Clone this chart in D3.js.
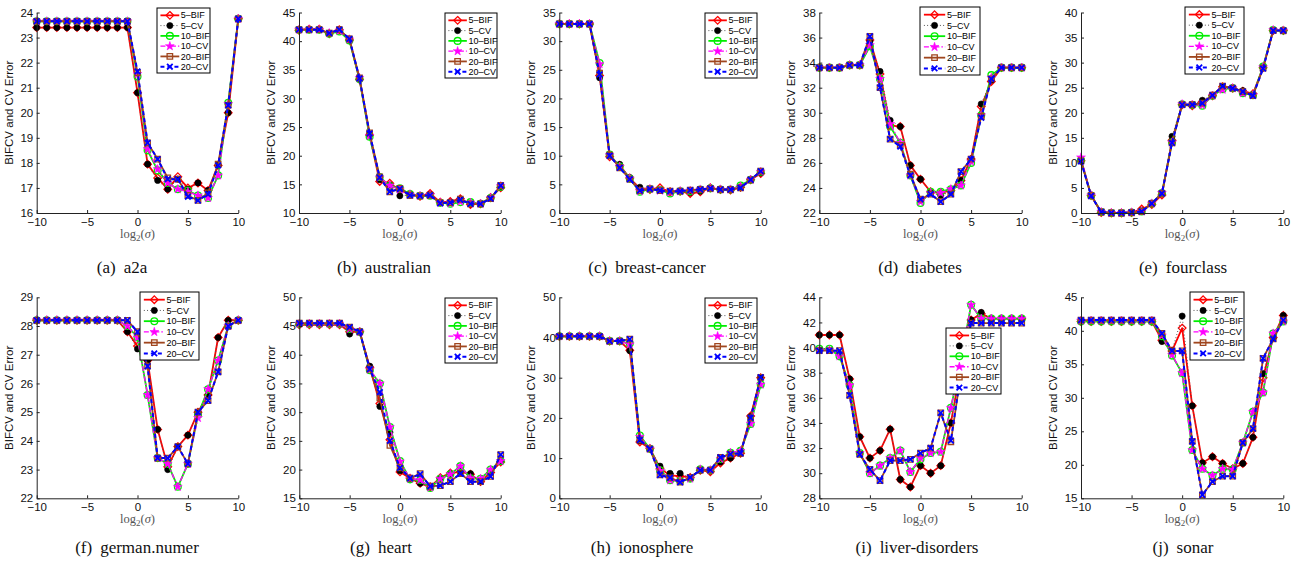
<!DOCTYPE html>
<html><head><meta charset="utf-8">
<script src="https://cdn.jsdelivr.net/npm/d3@7"></script>
<style>body{margin:0;background:#fff}svg{display:block}</style>
</head><body><svg id="c" width="1305" height="567"></svg>
<script>
// ---------- data ----------
const sigmaLog2 = [-10,-9,-8,-7,-6,-5,-4,-3,-2,-1,0,1,2,3,4,5,6,7,8,9,10];
const xTickValues = [-10,-5,0,5,10];
const seriesNames = ["5\u2013BIF","5\u2013CV","10\u2013BIF","10\u2013CV","20\u2013BIF","20\u2013CV"];

// (a) a2a
const a2a_5bif  = [23.4,23.4,23.4,23.4,23.4,23.4,23.4,23.4,23.4,23.4,20.8,17.95,17.4,16.95,17.45,17.0,17.2,16.9,17.9,20.0,23.75];
const a2a_5cv   = [23.4,23.4,23.4,23.4,23.4,23.4,23.4,23.4,23.4,23.4,20.8,17.95,17.3,16.95,17.35,16.95,17.2,16.9,17.9,20.0,23.75];
const a2a_10bif = [23.65,23.65,23.65,23.65,23.65,23.65,23.65,23.65,23.65,23.65,21.45,18.5,17.7,17.2,16.95,16.9,16.7,16.6,17.5,20.4,23.75];
const a2a_10cv  = [23.65,23.65,23.65,23.65,23.65,23.65,23.65,23.65,23.65,23.65,21.55,18.55,17.75,17.2,16.95,16.85,16.7,16.6,17.5,20.35,23.75];
const a2a_20bif = [23.65,23.65,23.65,23.65,23.65,23.65,23.65,23.65,23.65,23.65,21.6,18.8,18.15,17.4,17.35,16.7,16.5,16.8,17.95,20.3,23.75];
const a2a_20cv  = [23.65,23.65,23.65,23.65,23.65,23.65,23.65,23.65,23.65,23.65,21.65,18.8,18.15,17.35,17.35,16.65,16.5,16.75,17.9,20.3,23.75];
const a2a_ticks = [16,17,18,19,20,21,22,23,24];

// (b) australian
const aus_5bif  = [41.9,42.1,42.1,41.3,42.0,40.2,33.3,23.6,15.5,15.2,14.0,13.3,12.9,13.4,11.9,12.0,12.5,11.5,11.6,12.7,14.4];
const aus_5cv   = [42.0,42.0,42.0,41.4,42.0,40.4,33.5,23.8,15.8,14.9,13.0,13.1,13.0,13.2,11.8,11.9,12.4,11.6,11.6,12.6,14.5];
const aus_10bif = [42.0,42.0,42.0,41.3,41.7,40.1,33.4,23.3,16.3,14.7,14.3,13.3,13.0,13.0,11.8,11.6,11.9,11.9,11.6,12.6,14.6];
const aus_10cv  = [42.0,42.0,42.0,41.4,41.8,40.3,33.6,23.5,16.2,14.8,14.1,13.2,13.0,13.1,11.8,11.7,12.0,11.8,11.6,12.6,14.7];
const aus_20bif = [42.0,42.0,42.0,41.4,42.0,40.4,33.6,24.0,16.3,13.7,14.3,13.1,13.0,13.1,11.8,11.8,12.4,11.6,11.6,12.5,14.8];
const aus_20cv  = [42.0,42.0,42.0,41.4,42.0,40.4,33.5,23.9,16.2,13.7,14.2,13.1,13.0,13.1,11.7,11.8,12.3,11.6,11.6,12.5,14.8];
const aus_ticks = [10,15,20,25,30,35,40,45];

// (c) breast-cancer
const bc_5bif  = [33,33,33,33,24.0,9.8,8.3,6.1,4.2,4.1,4.4,3.7,3.8,3.4,3.7,4.4,4.1,4.0,4.5,5.8,6.9];
const bc_5cv   = [33,33,33,33,23.6,10.0,8.5,6.2,4.5,4.2,4.0,3.8,3.8,3.6,3.8,4.3,4.1,4.1,4.4,5.8,7.0];
const bc_10bif = [33,33,33,33,26.2,10.2,8.1,6.0,3.7,4.2,4.0,3.4,3.8,3.8,4.1,4.3,4.1,4.1,4.8,5.8,7.2];
const bc_10cv  = [33,33,33,33,26.0,10.1,8.1,6.0,3.8,4.2,3.9,3.6,3.8,3.9,4.1,4.3,4.1,4.1,4.6,5.8,7.2];
const bc_20bif = [33,33,33,33,24.4,10.1,7.9,5.9,3.9,4.2,3.9,3.8,3.8,4.0,4.1,4.3,4.1,4.1,4.4,5.8,7.3];
const bc_20cv  = [33,33,33,33,24.2,10.0,7.9,5.9,3.9,4.2,3.9,3.8,3.8,4.0,4.1,4.3,4.1,4.1,4.4,5.8,7.3];
const bc_ticks = [0,5,10,15,20,25,30,35];

// (d) diabetes
const dia_5bif  = [33.6,33.6,33.6,33.8,33.8,35.8,33.1,29.0,28.9,25.8,24.7,23.7,23.6,23.8,24.6,26.3,30.5,32.5,33.6,33.6,33.6];
const dia_5cv   = [33.6,33.6,33.6,33.8,33.8,35.7,33.3,29.4,28.9,25.8,24.7,23.6,23.4,23.7,24.6,26.3,30.7,32.6,33.6,33.6,33.6];
const dia_10bif = [33.6,33.6,33.6,33.8,33.8,35.3,32.7,28.9,27.6,25.0,22.8,23.7,23.7,23.9,24.2,26.0,29.8,33.0,33.6,33.6,33.6];
const dia_10cv  = [33.6,33.6,33.6,33.8,33.8,35.4,32.7,29.1,27.6,25.0,22.9,23.6,23.6,23.9,24.2,26.1,29.8,32.8,33.6,33.6,33.6];
const dia_20bif = [33.6,33.6,33.6,33.8,33.8,36.1,32.0,27.9,27.4,25.1,23.1,23.5,22.9,23.5,25.3,26.3,29.7,32.7,33.6,33.6,33.6];
const dia_20cv  = [33.6,33.6,33.6,33.8,33.8,36.1,32.0,27.9,27.3,25.0,23.1,23.5,22.9,23.5,25.3,26.3,29.6,32.7,33.6,33.6,33.6];
const dia_ticks = [22,24,26,28,30,32,34,36,38];

// (e) fourclass
const fc_5bif  = [10.4,3.5,0.1,0,0,0.1,0.8,1.7,3.6,14.5,21.6,21.4,22.2,23.4,25.2,24.9,24.3,23.8,29.0,36.4,36.4];
const fc_5cv   = [10.5,3.6,0.2,0,0,0.1,0.5,1.9,3.8,15.3,21.7,21.6,22.5,23.5,25.2,25.0,24.4,23.6,29.0,36.4,36.4];
const fc_10bif = [10.5,3.5,0.2,0,0,0.1,0.3,1.9,4.0,14.1,21.7,21.6,21.4,23.4,24.7,24.9,23.9,23.5,29.2,36.5,36.4];
const fc_10cv  = [11.1,3.5,0.2,0,0,0.1,0.3,1.9,4.0,14.1,21.7,21.6,21.5,23.4,24.6,24.9,23.9,23.5,29.1,36.5,36.4];
const fc_20bif = [10.4,3.5,0.2,0,0,0.1,0.3,1.9,3.9,14.0,21.6,21.6,21.9,23.5,25.3,24.9,24.2,23.4,28.9,36.4,36.4];
const fc_20cv  = [10.3,3.4,0.2,0,0,0.1,0.3,1.9,3.9,14.0,21.6,21.6,21.9,23.5,25.3,24.9,24.2,23.4,28.8,36.4,36.4];
const fc_ticks = [0,5,10,15,20,25,30,35,40];

// (f) german.numer
const ger_5bif  = [28.2,28.2,28.2,28.2,28.2,28.2,28.2,28.2,28.2,27.8,27.3,26.8,24.4,23.1,23.8,24.2,25.0,25.6,27.6,28.2,28.2];
const ger_5cv   = [28.2,28.2,28.2,28.2,28.2,28.2,28.2,28.2,28.2,27.8,27.2,26.8,24.4,23.0,23.8,24.2,25.0,25.6,27.6,28.2,28.2];
const ger_10bif = [28.2,28.2,28.2,28.2,28.2,28.2,28.2,28.2,28.2,28.0,27.6,25.6,23.4,23.2,22.4,23.2,24.9,25.8,26.8,28.0,28.2];
const ger_10cv  = [28.2,28.2,28.2,28.2,28.2,28.2,28.2,28.2,28.2,28.0,27.6,25.6,23.4,23.2,22.4,23.2,24.8,25.8,26.8,28.0,28.2];
const ger_20bif = [28.2,28.2,28.2,28.2,28.2,28.2,28.2,28.2,28.2,28.2,27.8,26.6,23.4,23.4,23.8,23.2,25.0,25.4,26.4,28.0,28.2];
const ger_20cv  = [28.2,28.2,28.2,28.2,28.2,28.2,28.2,28.2,28.2,28.2,27.8,26.6,23.4,23.4,23.8,23.2,25.0,25.4,26.4,28.0,28.2];
const ger_ticks = [22,23,24,25,26,27,28,29];

// (g) heart
const hrt_5bif  = [45.2,45.2,45.2,45.2,45.2,44.0,44.0,37.8,31.5,25.2,19.6,18.5,17.6,17.0,18.6,19.4,19.6,19.2,17.9,19.5,21.3];
const hrt_5cv   = [45.4,45.4,45.4,45.4,45.4,43.6,44.0,38.0,31.0,26.5,19.8,18.5,17.6,17.0,18.5,19.3,19.7,19.3,17.9,19.6,21.4];
const hrt_10bif = [45.4,45.4,45.4,45.4,45.4,44.5,44.0,37.3,35.0,27.4,21.5,18.3,18.2,16.8,18.4,19.2,20.6,18.5,18.4,20.0,21.5];
const hrt_10cv  = [45.4,45.4,45.4,45.4,45.4,44.5,44.0,37.4,35.0,27.4,21.4,18.4,18.2,16.9,18.4,19.2,20.6,18.5,18.4,20.0,21.5];
const hrt_20bif = [45.5,45.5,45.5,45.5,45.5,44.8,44.0,37.5,32.5,24.2,20.3,18.5,19.3,17.1,17.2,17.9,19.3,17.9,17.9,18.8,22.6];
const hrt_20cv  = [45.5,45.5,45.5,45.5,45.5,44.8,44.0,37.5,33.5,25.0,20.3,18.5,19.2,17.1,17.2,17.9,19.3,17.9,17.9,18.8,22.6];
const hrt_ticks = [15,20,25,30,35,40,45,50];

// (h) ionosphere
const ion_5bif  = [40.3,40.3,40.3,40.3,40.3,39.1,39.1,36.8,14.0,12.4,7.5,5.7,5.5,5.2,7.0,6.6,8.8,10.0,11.2,20.5,30.0];
const ion_5cv   = [40.3,40.3,40.3,40.3,40.3,39.1,39.1,36.7,14.3,12.4,8.0,6.2,6.2,5.2,7.0,6.8,9.0,10.0,11.2,20.3,30.0];
const ion_10bif = [40.3,40.3,40.3,40.3,40.3,39.1,39.1,38.5,15.6,12.3,7.0,4.5,4.3,4.9,7.2,7.0,9.8,11.3,11.8,18.5,28.3];
const ion_10cv  = [40.3,40.3,40.3,40.3,40.3,39.1,39.1,38.3,15.3,12.3,6.8,4.5,4.3,4.9,7.2,7.0,9.8,11.3,11.8,18.6,28.3];
const ion_20bif = [40.3,40.3,40.3,40.3,40.3,39.1,39.1,39.6,14.5,12.3,5.8,5.1,4.0,5.2,7.0,7.0,10.2,11.0,11.2,20.0,30.1];
const ion_20cv  = [40.3,40.3,40.3,40.3,40.3,39.1,39.1,39.6,14.5,12.3,5.8,5.1,4.0,5.2,7.0,7.0,10.2,11.0,11.2,20.0,30.1];
const ion_ticks = [0,10,20,30,40,50];

// (i) liver-disorders
const liv_5bif  = [41.0,41.0,41.0,37.5,32.9,31.2,31.8,33.5,29.5,28.9,30.6,30.0,30.6,34.0,38.5,42.2,42.7,42.3,42.3,42.3,42.3];
const liv_5cv   = [41.0,41.0,41.0,37.5,32.9,31.2,31.8,33.5,29.5,28.9,30.6,30.0,30.6,34.0,38.5,42.2,42.8,42.3,42.3,42.3,42.3];
const liv_10bif = [39.9,39.9,39.3,37.0,31.6,30.0,30.6,31.2,31.8,30.1,31.1,31.6,31.7,35.2,39.0,43.4,42.3,42.3,42.3,42.3,42.3];
const liv_10cv  = [39.8,39.8,39.3,37.0,31.6,30.0,30.6,31.2,31.8,30.1,31.2,31.6,31.7,35.2,39.0,43.4,42.3,42.3,42.3,42.3,42.3];
const liv_20bif = [39.75,39.75,39.75,36.2,31.5,30.3,29.4,31.0,31.0,31.1,31.6,32.0,34.8,32.5,38.0,41.95,41.95,41.95,41.95,41.95,41.95];
const liv_20cv  = [39.75,39.75,39.75,36.2,31.5,30.3,29.4,31.0,31.0,31.1,31.6,32.0,34.8,32.6,38.0,41.95,41.95,41.95,41.95,41.95,41.95];
const liv_ticks = [28,30,32,34,36,38,40,42,44];

// (j) sonar
const son_5bif  = [41.4,41.4,41.4,41.4,41.4,41.4,41.4,41.4,38.6,37.0,40.4,28.8,20.3,21.2,20.2,19.4,20.2,24.1,33.0,39.0,42.3];
const son_5cv   = [41.6,41.6,41.6,41.6,41.6,41.6,41.6,41.6,38.4,37.0,42.2,28.8,20.3,21.2,20.2,19.4,20.2,24.1,33.6,38.9,42.3];
const son_10bif = [41.4,41.4,41.4,41.4,41.4,41.4,41.4,41.4,39.2,36.3,33.7,22.2,19.4,18.4,19.4,19.3,23.3,27.9,30.8,39.6,41.4];
const son_10cv  = [41.5,41.5,41.5,41.5,41.5,41.5,41.5,41.5,39.3,36.4,33.7,22.2,19.4,18.4,19.4,19.3,23.3,27.9,30.8,39.6,41.4];
const son_20bif = [41.6,41.6,41.6,41.6,41.6,41.6,41.6,41.6,39.6,37.0,37.0,23.5,15.5,17.5,18.3,18.3,23.3,25.4,35.9,38.8,41.6];
const son_20cv  = [41.6,41.6,41.6,41.6,41.6,41.6,41.6,41.6,39.6,37.0,37.0,23.5,15.5,17.5,18.3,18.3,23.3,25.4,35.9,38.8,41.6];
const son_ticks = [15,20,25,30,35,40,45];

const captionLetters = ["(a)","(b)","(c)","(d)","(e)","(f)","(g)","(h)","(i)","(j)"];
const captionNames = ["a2a","australian","breast-cancer","diabetes","fourclass","german.numer","heart","ionosphere","liver-disorders","sonar"];

// ---------- layout / style ----------
const rows = [{top:12.5, bottom:213, capY:273}, {top:297.3, bottom:498.3, capY:553}];
const panels = [
  {s:[a2a_5bif,a2a_5cv,a2a_10bif,a2a_10cv,a2a_20bif,a2a_20cv], t:a2a_ticks, row:0, x0:36.7,  x1:238.3, leg:[157,8,53,65],   cap:122},
  {s:[aus_5bif,aus_5cv,aus_10bif,aus_10cv,aus_20bif,aus_20cv], t:aus_ticks, row:0, x0:299,   x1:500.7, leg:[445,13,52,65],  cap:384},
  {s:[bc_5bif,bc_5cv,bc_10bif,bc_10cv,bc_20bif,bc_20cv],       t:bc_ticks,  row:0, x0:559.3, x1:760.7, leg:[705,13,52,65],  cap:647},
  {s:[dia_5bif,dia_5cv,dia_10bif,dia_10cv,dia_20bif,dia_20cv], t:dia_ticks, row:0, x0:819.3, x1:1021.7,leg:[920,7,60,68],   cap:920},
  {s:[fc_5bif,fc_5cv,fc_10bif,fc_10cv,fc_20bif,fc_20cv],       t:fc_ticks,  row:0, x0:1081,  x1:1283.3,leg:[1185,7,59,67],  cap:1183},
  {s:[ger_5bif,ger_5cv,ger_10bif,ger_10cv,ger_20bif,ger_20cv], t:ger_ticks, row:1, x0:36.7,  x1:238.3, leg:[140,292,59,68], cap:137},
  {s:[hrt_5bif,hrt_5cv,hrt_10bif,hrt_10cv,hrt_20bif,hrt_20cv], t:hrt_ticks, row:1, x0:299.3, x1:500.7, leg:[445,298,52,65], cap:381},
  {s:[ion_5bif,ion_5cv,ion_10bif,ion_10cv,ion_20bif,ion_20cv], t:ion_ticks, row:1, x0:559.3, x1:760.7, leg:[705,298,52,65], cap:642},
  {s:[liv_5bif,liv_5cv,liv_10bif,liv_10cv,liv_20bif,liv_20cv], t:liv_ticks, row:1, x0:819.3, x1:1021.7,leg:[946,328,55,66], cap:917},
  {s:[son_5bif,son_5cv,son_10bif,son_10cv,son_20bif,son_20cv], t:son_ticks, row:1, x0:1081,  x1:1283.3,leg:[1190,292,54,68],cap:1183}
];
const styles = [
  {line:"#ff0000", w:1.8, dash:null,        mk:"diamond", mstroke:"#ff0000", mfill:"none"},
  {line:"#555555", w:1.0, dash:"1,2.2",     mk:"dot",     mstroke:"#000",    mfill:"#000"},
  {line:"#00ee00", w:1.8, dash:null,        mk:"circle",  mstroke:"#00ee00", mfill:"none"},
  {line:"#ff00ff", w:1.4, dash:"5,2,1.5,2", mk:"star",    mstroke:"#ff00ff", mfill:"#ff00ff"},
  {line:"#a0461e", w:1.8, dash:null,        mk:"square",  mstroke:"#a0461e", mfill:"none"},
  {line:"#0000ff", w:2.0, dash:"4,3",       mk:"cross",   mstroke:"#0000ff", mfill:"none"}
];
const markerPath = {
  diamond: () => { const r = 3.8; return `M0,${-r}L${r},0L0,${r}L${-r},0Z`; },
  dot:     () => d3.symbol(d3.symbolCircle, 30)(),
  circle:  () => d3.symbol(d3.symbolCircle, 36)(),
  star:    () => d3.symbol(d3.symbolStar, 24)(),
  square:  () => d3.symbol(d3.symbolSquare, 30)(),
  cross:   () => { const r = 2.8; return `M${-r},${-r}L${r},${r}M${-r},${r}L${r},${-r}`; }
};

const svg = d3.select("#c");
const sans = "'Liberation Sans', Arial, Helvetica, sans-serif";
const serif = "'Liberation Serif', 'Times New Roman', serif";
const intFmt = d3.format("d");

function drawMarker(g, st, cx, cy) {
  g.append("path").attr("d", markerPath[st.mk]())
    .attr("transform", `translate(${cx},${cy})`)
    .attr("fill", st.mfill).attr("stroke", st.mstroke)
    .attr("stroke-width", st.mk === "cross" ? 1.8 : (st.mk === "dot" || st.mk === "star" ? 0.6 : 1.3));
}

panels.forEach((p, pi) => {
  const row = rows[p.row];
  const x = d3.scaleLinear().domain([-10, 10]).range([p.x0, p.x1]);
  const y = d3.scaleLinear().domain([p.t[0], p.t[p.t.length - 1]]).range([row.bottom, row.top]);
  const g = svg.append("g");

  // series
  const line = d3.line().x((d, j) => x(sigmaLog2[j])).y(d => y(d));
  p.s.forEach((vals, k) => {
    const st = styles[k];
    const sg = g.append("g");
    sg.append("path").attr("d", line(vals)).attr("fill", "none")
      .attr("stroke", st.line).attr("stroke-width", st.w)
      .attr("stroke-dasharray", st.dash).attr("stroke-linejoin", "round");
    vals.forEach((v, j) => drawMarker(sg, st, x(sigmaLog2[j]), y(v)));
  });

  // axes
  const ax = g.append("g").attr("transform", `translate(0,${row.bottom})`)
    .call(d3.axisBottom(x).tickValues(xTickValues).tickFormat(d3.format("")).tickSize(-3).tickSizeOuter(0).tickPadding(5));
  const ay = g.append("g").attr("transform", `translate(${p.x0},0)`)
    .call(d3.axisLeft(y).tickValues(p.t).tickFormat(intFmt).tickSize(-3).tickSizeOuter(0).tickPadding(3.5));
  [ax, ay].forEach(a => {
    a.select(".domain").attr("stroke", "#222");
    a.selectAll(".tick line").attr("stroke", "#222");
    a.selectAll("text").attr("font-family", sans).attr("font-size", 11.5).attr("fill", "#111");
  });

  // y label
  const ym = (row.top + row.bottom) / 2;
  g.append("text").attr("transform", `translate(${p.x0 - 24},${ym}) rotate(-90)`)
    .attr("text-anchor", "middle").attr("font-family", sans).attr("font-size", 11.5)
    .attr("fill", "#111").text("BIFCV and CV Error");

  // x label
  const xl = g.append("text").attr("x", (p.x0 + p.x1) / 2).attr("y", row.bottom + 25)
    .attr("text-anchor", "middle").attr("font-family", serif).attr("font-size", 12.5).attr("fill", "#555");
  xl.append("tspan").text("log");
  xl.append("tspan").attr("dy", 3).attr("font-size", 9).text("2");
  xl.append("tspan").attr("dy", -3).text("(");
  xl.append("tspan").attr("font-style", "italic").text("\u03c3");
  xl.append("tspan").text(")");

  // legend
  const [lx, ly, lw, lh] = p.leg;
  const lg = g.append("g");
  lg.append("rect").attr("x", lx).attr("y", ly).attr("width", lw).attr("height", lh)
    .attr("fill", "#fff").attr("stroke", "#000").attr("stroke-width", 1);
  seriesNames.forEach((nm, k) => {
    const st = styles[k];
    const cy = ly + lh * (0.113 + k * 0.158);
    const a = lx + lw * 0.065, b = lx + lw * 0.42;
    lg.append("line").attr("x1", a).attr("x2", b).attr("y1", cy).attr("y2", cy)
      .attr("stroke", st.line).attr("stroke-width", st.w).attr("stroke-dasharray", st.dash);
    drawMarker(lg, st, (a + b) / 2, cy);
    lg.append("text").attr("x", lx + lw * 0.45).attr("y", cy).attr("dy", "0.35em")
      .attr("font-family", sans).attr("font-size", 9).attr("fill", "#000").text(nm);
  });

  // caption
  const cp = svg.append("text").attr("x", p.cap).attr("y", row.capY).attr("text-anchor", "middle")
    .attr("font-family", serif).attr("font-size", 17).attr("fill", "#111");
  cp.append("tspan").text(captionLetters[pi]);
  cp.append("tspan").attr("dx", 8).text(captionNames[pi]);
});
</script>
</body></html>
